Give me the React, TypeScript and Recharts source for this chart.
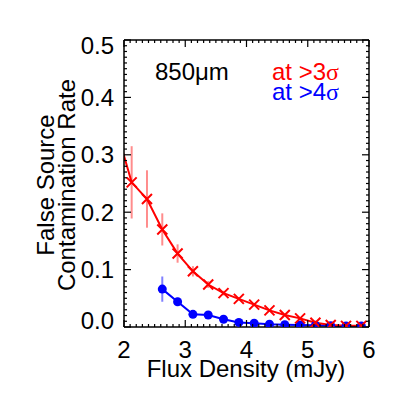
import { Customized, ErrorBar, Line, LineChart, XAxis, YAxis } from "recharts"

// red: false-positive rate at >3 sigma (first point sits left of the axis and is clipped)
const X_RED = [1.875, 2.125, 2.375, 2.625, 2.875, 3.125, 3.375, 3.625, 3.875, 4.125, 4.375, 4.625, 4.875, 5.125, 5.375, 5.625, 5.875]
const RED = [0.344, 0.252, 0.223, 0.17, 0.128, 0.097, 0.074, 0.059, 0.049, 0.039, 0.029, 0.021, 0.015, 0.0075, 0.0035, 0.002, 0.002]
const RED_ERR = [0, 0.063, 0.05, 0.028, 0.016, 0.009, 0.006, 0.004, 0.003, 0.003, 0.002, 0.002, 0.002, 0.001, 0.001, 0.001, 0.001]

// blue: at >4 sigma
const X_BLUE = [2.625, 2.875, 3.125, 3.375, 3.625, 3.875, 4.125, 4.375, 4.625, 4.875, 5.125, 5.375, 5.625, 5.875]
const BLUE = [0.066, 0.044, 0.022, 0.021, 0.0135, 0.008, 0.0065, 0.0047, 0.004, 0.0035, 0.003, 0.0023, 0.0018, 0.0018]
const BLUE_ERR = [0.022, 0.007, 0.004, 0.003, 0.002, 0.002, 0.001, 0.001, 0.001, 0.001, 0.001, 0.001, 0.001, 0.001]

const X_LABELS = [2, 3, 4, 5, 6]
const Y_LABELS = [0, 0.1, 0.2, 0.3, 0.4, 0.5]

const X_TICKS = Array.from({ length: 41 }, (_, i) => Math.round((2 + i * 0.1) * 10) / 10)
const Y_TICKS = Array.from({ length: 51 }, (_, i) => i / 100)

const FONT = "'Liberation Sans', Arial, Helvetica, sans-serif"
const SERIF = "'Liberation Serif', 'Times New Roman', serif"
const FS = 24

const redData = X_RED.map((x, i) => ({ x, y: RED[i], err: RED_ERR[i] }))
const blueData = X_BLUE.map((x, i) => ({ x, y: BLUE[i], err: BLUE_ERR[i] }))

const isLabelX = (v: number) => X_LABELS.some((t) => Math.abs(t - v) < 1e-6)
const isLabelY = (v: number) => Y_LABELS.some((t) => Math.abs(t - v) < 1e-6)

function BottomTick({ x, y, payload }: any) {
  const major = isLabelX(payload.value)
  return (
    <g>
      <line x1={x} x2={x} y1={y} y2={y - (major ? 7 : 3)} stroke="#000" strokeWidth={1.2} />
      {major && (
        <text x={x} y={y + 31} textAnchor="middle" fontFamily={FONT} fontSize={FS} fill="#000">
          {payload.value}
        </text>
      )}
    </g>
  )
}

function TopTick({ x, y, payload }: any) {
  const major = isLabelX(payload.value)
  return <line x1={x} x2={x} y1={y} y2={y + (major ? 7 : 3)} stroke="#000" strokeWidth={1.2} />
}

function LeftTick({ x, y, payload }: any) {
  const v = payload.value
  const major = isLabelY(v)
  // end labels sit inside the frame, as in the original
  const shift = v === 0.5 ? 5 : v === 0 ? -7 : 0
  return (
    <g>
      <line x1={x} x2={x + (major ? 7 : 3)} y1={y} y2={y} stroke="#000" strokeWidth={1.2} />
      {major && (
        <text x={x - 10} y={y + shift + 8.5} textAnchor="end" fontFamily={FONT} fontSize={FS} fill="#000">
          {v.toFixed(1)}
        </text>
      )}
    </g>
  )
}

function RightTick({ x, y, payload }: any) {
  const major = isLabelY(payload.value)
  return <line x1={x} x2={x - (major ? 7 : 3)} y1={y} y2={y} stroke="#000" strokeWidth={1.2} />
}

function Cross({ cx, cy, index }: any) {
  if (cx == null || cy == null) return <g key={index} />
  return (
    <path
      key={index}
      d={`M${cx - 5},${cy - 5}L${cx + 5},${cy + 5}M${cx - 5},${cy + 5}L${cx + 5},${cy - 5}`}
      stroke="#ff0000"
      strokeWidth={2}
      fill="none"
    />
  )
}

function Annotations() {
  return (
    <g fontFamily={FONT} fontSize={FS}>
      <text x={147} y={72} fill="#000">850μm</text>
      <text x={264} y={72} fill="#ff0000">
        at &gt;3<tspan fontFamily={SERIF}>σ</tspan>
      </text>
      <text x={264} y={92} fill="#0000ff">
        at &gt;4<tspan fontFamily={SERIF}>σ</tspan>
      </text>
      <text x={238} y={369} textAnchor="middle" fill="#000">Flux Density (mJy)</text>
      <text transform="translate(46,177) rotate(-90)" textAnchor="middle" fill="#000">False Source</text>
      <text transform="translate(67,177) rotate(-90)" textAnchor="middle" fill="#000">Contamination Rate</text>
    </g>
  )
}

export default function App() {
  const axisLine = { stroke: "#000", strokeWidth: 1.5 }
  return (
    <div style={{ width: 390, height: 390 }}>
      <LineChart width={390} height={390} margin={{ top: 31, right: 28, bottom: 11, left: 0 }}>
        <XAxis
          xAxisId="b"
          type="number"
          dataKey="x"
          domain={[2, 6]}
          allowDataOverflow
          ticks={X_TICKS}
          interval={0}
          tick={BottomTick}
          tickLine={false}
          tickSize={0}
          tickMargin={0}
          height={60}
          axisLine={axisLine}
        />
        <XAxis
          xAxisId="t"
          orientation="top"
          type="number"
          dataKey="x"
          domain={[2, 6]}
          allowDataOverflow
          ticks={X_TICKS}
          interval={0}
          tick={TopTick}
          tickLine={false}
          tickSize={0}
          tickMargin={0}
          height={1}
          axisLine={axisLine}
        />
        <YAxis
          yAxisId="l"
          type="number"
          domain={[0, 0.5]}
          allowDataOverflow
          ticks={Y_TICKS}
          interval={0}
          tick={LeftTick}
          tickLine={false}
          tickSize={0}
          tickMargin={0}
          width={116}
          axisLine={axisLine}
        />
        <YAxis
          yAxisId="r"
          orientation="right"
          type="number"
          domain={[0, 0.5]}
          allowDataOverflow
          ticks={Y_TICKS}
          interval={0}
          tick={RightTick}
          tickLine={false}
          tickSize={0}
          tickMargin={0}
          width={1}
          axisLine={axisLine}
        />

        <Line xAxisId="b" yAxisId="l" data={blueData} dataKey="y" stroke="none" dot={false} isAnimationActive={false}>
          <ErrorBar dataKey="err" direction="y" width={0} stroke="#8080ff" strokeWidth={2} isAnimationActive={false} />
        </Line>
        <Line
          xAxisId="b"
          yAxisId="l"
          data={blueData}
          dataKey="y"
          stroke="#0000ff"
          strokeWidth={2}
          dot={{ r: 4.5, fill: "#0000ff", stroke: "#0000ff", strokeWidth: 0 }}
          isAnimationActive={false}
        />
        <Line xAxisId="b" yAxisId="l" data={redData} dataKey="y" stroke="none" dot={false} isAnimationActive={false}>
          <ErrorBar dataKey="err" direction="y" width={0} stroke="#ff8c8c" strokeWidth={2} isAnimationActive={false} />
        </Line>
        <Line
          xAxisId="b"
          yAxisId="l"
          data={redData}
          dataKey="y"
          stroke="#ff0000"
          strokeWidth={2}
          dot={Cross}
          isAnimationActive={false}
        />
        <Customized component={Annotations} />
      </LineChart>
    </div>
  )
}
